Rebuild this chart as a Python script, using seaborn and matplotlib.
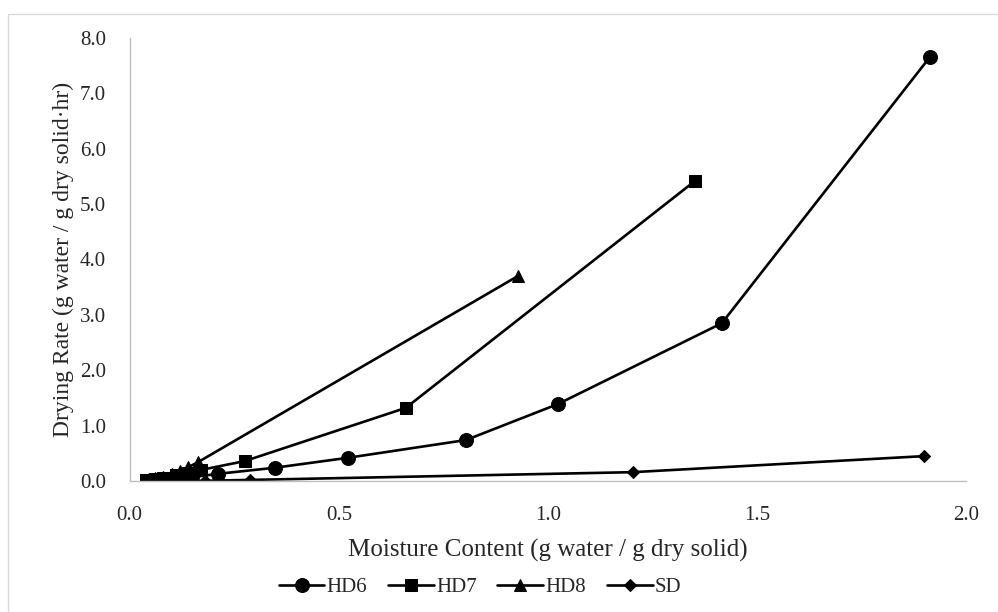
import numpy as np
import pandas as pd
import matplotlib
matplotlib.use("Agg")
import matplotlib.pyplot as plt
import seaborn as sns
from matplotlib.patches import Rectangle


# --- Data ---
hd6_x = [1.914, 1.416, 1.024, 0.804, 0.522, 0.347, 0.211, 0.15, 0.12, 0.09, 0.07, 0.05]
hd6_y = [7.66, 2.85, 1.39, 0.74, 0.42, 0.24, 0.13, 0.07, 0.05, 0.03, 0.02, 0.01]

hd7_x = [1.352, 0.660, 0.275, 0.17, 0.14, 0.11, 0.08, 0.06, 0.04]
hd7_y = [5.42, 1.32, 0.36, 0.20, 0.15, 0.10, 0.06, 0.04, 0.02]

hd8_x = [0.928, 0.163, 0.14, 0.12, 0.10, 0.08, 0.06, 0.04]
hd8_y = [3.70, 0.34, 0.25, 0.18, 0.12, 0.08, 0.05, 0.02]

sd_x = [1.90, 1.203, 0.287, 0.18, 0.15, 0.12, 0.09, 0.06, 0.04]
sd_y = [0.45, 0.16, 0.02, 0.005, 0.004, 0.003, 0.002, 0.001, 0.0]

series = {
    "HD6": (hd6_x, hd6_y, "o", 10),
    "HD7": (hd7_x, hd7_y, "s", 9),
    "HD8": (hd8_x, hd8_y, "^", 8),
    "SD": (sd_x, sd_y, "D", 6),
}


# --- Plot styling ---
sns.set_theme(style="white")
plt.rcParams["font.family"] = ["Liberation Serif", "DejaVu Serif"]

fig = plt.figure(figsize=(9.98, 6.12), dpi=100)
ax = fig.add_axes([0.130, 0.214, 0.838, 0.724])

fig.patches.append(Rectangle((8 / 998, -0.1), 1.2, 1 - 14 / 612 + 0.1,
                             transform=fig.transFigure, fill=False,
                             edgecolor="#d9d9d9", linewidth=1))


# --- Plot data ---
for name, (xs, ys, mk, ms) in series.items():
    df = pd.DataFrame({"x": xs, "y": ys})
    sns.lineplot(data=df, x="x", y="y", sort=False, color="black",
                 linewidth=1.9, marker=mk, markersize=ms,
                 markeredgecolor="black", markerfacecolor="black",
                 label=name, ax=ax)


# --- Axes configuration ---
ax.set_xlim(0, 2.0)
ax.set_ylim(0, 8.0)
ax.set_xticks(np.arange(0, 2.01, 0.5))
ax.set_yticks(np.arange(0, 8.01, 1.0))
ax.xaxis.set_major_formatter(matplotlib.ticker.FormatStrFormatter("%.1f"))
ax.yaxis.set_major_formatter(matplotlib.ticker.FormatStrFormatter("%.1f"))

ax.set_xlabel("Moisture Content (g water / g dry solid)", fontsize=18, labelpad=10)
ax.set_ylabel("Drying Rate (g water / g dry solid·hr)", fontsize=17, labelpad=4)

for side in ["top", "right"]:
    ax.spines[side].set_visible(False)
for side in ["left", "bottom"]:
    ax.spines[side].set_color("#bfbfbf")
    ax.spines[side].set_linewidth(1)

ax.tick_params(axis="x", which="major", length=0, labelsize=15, pad=18)
ax.tick_params(axis="y", which="major", length=0, labelsize=15, pad=17)


# --- Legend ---
ax.legend_.remove()
handles, labels = ax.get_legend_handles_labels()
fig.legend(handles, labels, loc="center", bbox_to_anchor=(480 / 998, 1 - 587 / 612),
           ncol=4, frameon=False, fontsize=15, handlelength=2.2,
           columnspacing=1.0, handletextpad=0.1)


# --- Render ---
fig.savefig("out.png", dpi=100)
